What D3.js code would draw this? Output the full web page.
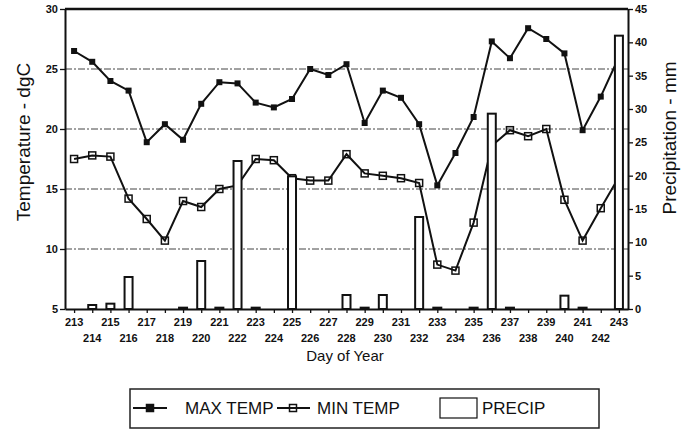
<!DOCTYPE html>
<html lang="en"><head>
  <meta charset="utf-8">
  <title>Temperature and Precipitation</title>
  <script src="https://cdn.jsdelivr.net/npm/d3@7"></script>
  <style>
   body { margin: 0; background: white; }
   text { font-family: "Liberation Sans", Arial, sans-serif; fill: #111; }
  </style>
</head>
<body>
  <script>
   // day of year, daily max/min temperature (dgC) and precipitation (mm)
   var days = d3.range(213, 244);
   var maxTemp = [26.5, 25.6, 24.0, 23.2, 18.9, 20.4, 19.1, 22.1, 23.9, 23.8,
                  22.2, 21.8, 22.5, 25.0, 24.5, 25.4, 20.5, 23.2, 22.6, 20.4,
                  15.3, 18.0, 21.0, 27.3, 25.9, 28.4, 27.5, 26.3, 19.9, 22.7, 26.0];
   var minTemp = [17.5, 17.8, 17.7, 14.2, 12.5, 10.7, 14.0, 13.5, 15.0, 15.3,
                  17.5, 17.4, 15.9, 15.7, 15.7, 17.9, 16.3, 16.1, 15.9, 15.5,
                  8.7, 8.2, 12.2, 18.6, 19.9, 19.4, 20.0, 14.1, 10.7, 13.4, 16.0];
   var precip = [0, 0.6, 0.8, 4.8, 0, 0, 0.2, 7.2, 0.2, 22.2,
                 0.2, 0, 19.9, 0, 0, 2.1, 0.2, 2.1, 0, 13.8,
                 0.2, 0, 0.2, 29.3, 0.2, 0, 0, 2.0, 0.2, 0, 41.0];
   var tempTicks = [5, 10, 15, 20, 25, 30];
   var precipTicks = [0, 5, 10, 15, 20, 25, 30, 35, 40, 45];
   var legendItems = ["MAX TEMP", "MIN TEMP", "PRECIP"];

   var width = 690, height = 434;
   // note: "top" is taken by window.top, so plotTop
   var left = 65, right = 628, plotTop = 9, bottom = 309;

   var x = d3.scaleLinear().domain([212.5, 243.5]).range([left, right]);
   var yT = d3.scaleLinear().domain([5, 30]).range([bottom, plotTop]);
   var yP = d3.scaleLinear().domain([0, 45]).range([bottom, plotTop]);

   var svg = d3.select("body").append("svg")
               .attr("width", width)
               .attr("height", height);

   // dash-dot grid lines
   svg.append("g").selectAll("line")
      .data([10, 15, 20, 25])
      .enter().append("line")
      .attr("x1", left).attr("x2", right)
      .attr("y1", function(d) { return yT(d); })
      .attr("y2", function(d) { return yT(d); })
      .attr("stroke", "#444")
      .attr("stroke-width", 1)
      .attr("stroke-dasharray", "7,2,2,2");

   // left axis
   var leftAxis = d3.axisLeft(yT).tickValues(tempTicks).tickSize(5).tickSizeOuter(0);
   var gl = svg.append("g")
      .attr("transform", "translate(" + left + ",0)")
      .call(leftAxis);

   // right axis
   var rightAxis = d3.axisRight(yP).tickValues(precipTicks).tickSize(5).tickSizeOuter(0);
   var gr = svg.append("g")
      .attr("transform", "translate(" + right + ",0)")
      .call(rightAxis);

   // bottom axis: minor ticks every day, labels in two staggered rows
   var bottomAxis = d3.axisBottom(x).tickValues(days).tickSize(4).tickSizeOuter(0).tickFormat("");
   var gb = svg.append("g")
      .attr("transform", "translate(0," + bottom + ")")
      .call(bottomAxis);

   [gl, gr, gb].forEach(function(g) {
     g.select(".domain").attr("stroke", "#111").attr("stroke-width", 2);
     g.selectAll(".tick line").attr("stroke", "#111").attr("stroke-width", 1.3);
     g.selectAll("text")
      .attr("font-size", 11)
      .attr("font-weight", "bold")
      .attr("font-family", "Liberation Sans, Arial, sans-serif")
      .attr("fill", "#111");
   });
   gl.selectAll("text").attr("x", -7);
   gr.selectAll("text").attr("x", 7);

   gb.selectAll(".dayLabel")
     .data(days)
     .enter().append("text")
     .attr("class", "dayLabel")
     .attr("x", function(d) { return x(d); })
     .attr("y", function(d) { return (d % 2 == 1) ? 17 : 33; })
     .attr("text-anchor", "middle")
     .attr("font-size", 11)
     .attr("font-weight", "bold")
     .text(function(d) { return d; });

   // top frame line
   svg.append("line")
      .attr("x1", left).attr("x2", right)
      .attr("y1", plotTop).attr("y2", plotTop)
      .attr("stroke", "#111")
      .attr("stroke-width", 2.5);

   svg.append("text")
      .attr("x", 345)
      .attr("y", 361)
      .attr("text-anchor", "middle")
      .attr("font-size", 15)
      .text("Day of Year");

   svg.append("text")
      .attr("transform", "translate(30,142) rotate(-90)")
      .attr("text-anchor", "middle")
      .attr("font-size", 19)
      .text("Temperature - dgC");

   svg.append("text")
      .attr("transform", "translate(676,138) rotate(-90)")
      .attr("text-anchor", "middle")
      .attr("font-size", 19)
      .text("Precipitation - mm");

   // temperature lines
   var tempLine = d3.line()
      .x(function(d, i) { return x(days[i]); })
      .y(function(d) { return yT(d); });

   [maxTemp, minTemp].forEach(function(series) {
     svg.append("path")
        .datum(series)
        .attr("d", tempLine)
        .attr("fill", "none")
        .attr("stroke", "#111")
        .attr("stroke-width", 2);
   });

   svg.append("g").selectAll("rect")
      .data(maxTemp)
      .enter().append("rect")
      .attr("x", function(d, i) { return x(days[i]) - 3; })
      .attr("y", function(d) { return yT(d) - 3; })
      .attr("width", 6).attr("height", 6)
      .attr("fill", "#111");

   svg.append("g").selectAll("rect")
      .data(minTemp)
      .enter().append("rect")
      .attr("x", function(d, i) { return x(days[i]) - 3.5; })
      .attr("y", function(d) { return yT(d) - 3.5; })
      .attr("width", 7).attr("height", 7)
      .attr("fill", "none")
      .attr("stroke", "#111")
      .attr("stroke-width", 1.5);

   // precipitation bars on top, white filled
   var barW = 8;
   svg.append("g").selectAll("rect")
      .data(days.map(function(d, i) { return {day: d, p: precip[i]}; })
                .filter(function(d) { return d.p > 0; }))
      .enter().append("rect")
      .attr("x", function(d) { return x(d.day) - barW / 2; })
      .attr("y", function(d) { return yP(d.p); })
      .attr("width", barW)
      .attr("height", function(d) { return bottom - yP(d.p); })
      .attr("fill", "white")
      .attr("stroke", "#111")
      .attr("stroke-width", 2);

   // legend
   var lg = svg.append("g");
   lg.append("rect")
     .attr("x", 130).attr("y", 389)
     .attr("width", 469).attr("height", 39)
     .attr("fill", "white")
     .attr("stroke", "#222")
     .attr("stroke-width", 1.5);

   [[133, 167, 150, true], [277, 310, 293, false]].forEach(function(s) {
     lg.append("line")
       .attr("x1", s[0]).attr("x2", s[1])
       .attr("y1", 408).attr("y2", 408)
       .attr("stroke", "#111").attr("stroke-width", 2);
     lg.append("rect")
       .attr("x", s[2] - 3.5).attr("y", 404.5)
       .attr("width", 7).attr("height", 7)
       .attr("fill", s[3] ? "#111" : "none")
       .attr("stroke", "#111").attr("stroke-width", 1.5);
   });
   lg.append("rect")
     .attr("x", 440).attr("y", 398)
     .attr("width", 37).attr("height", 20)
     .attr("fill", "white")
     .attr("stroke", "#111").attr("stroke-width", 1.2);

   lg.selectAll("text.leg")
     .data(legendItems)
     .enter().append("text")
     .attr("class", "leg")
     .attr("x", function(d, i) { return [185, 317, 482][i]; })
     .attr("y", 414)
     .attr("font-size", 17)
     .text(function(d) { return d; });
  </script>
</body></html>
